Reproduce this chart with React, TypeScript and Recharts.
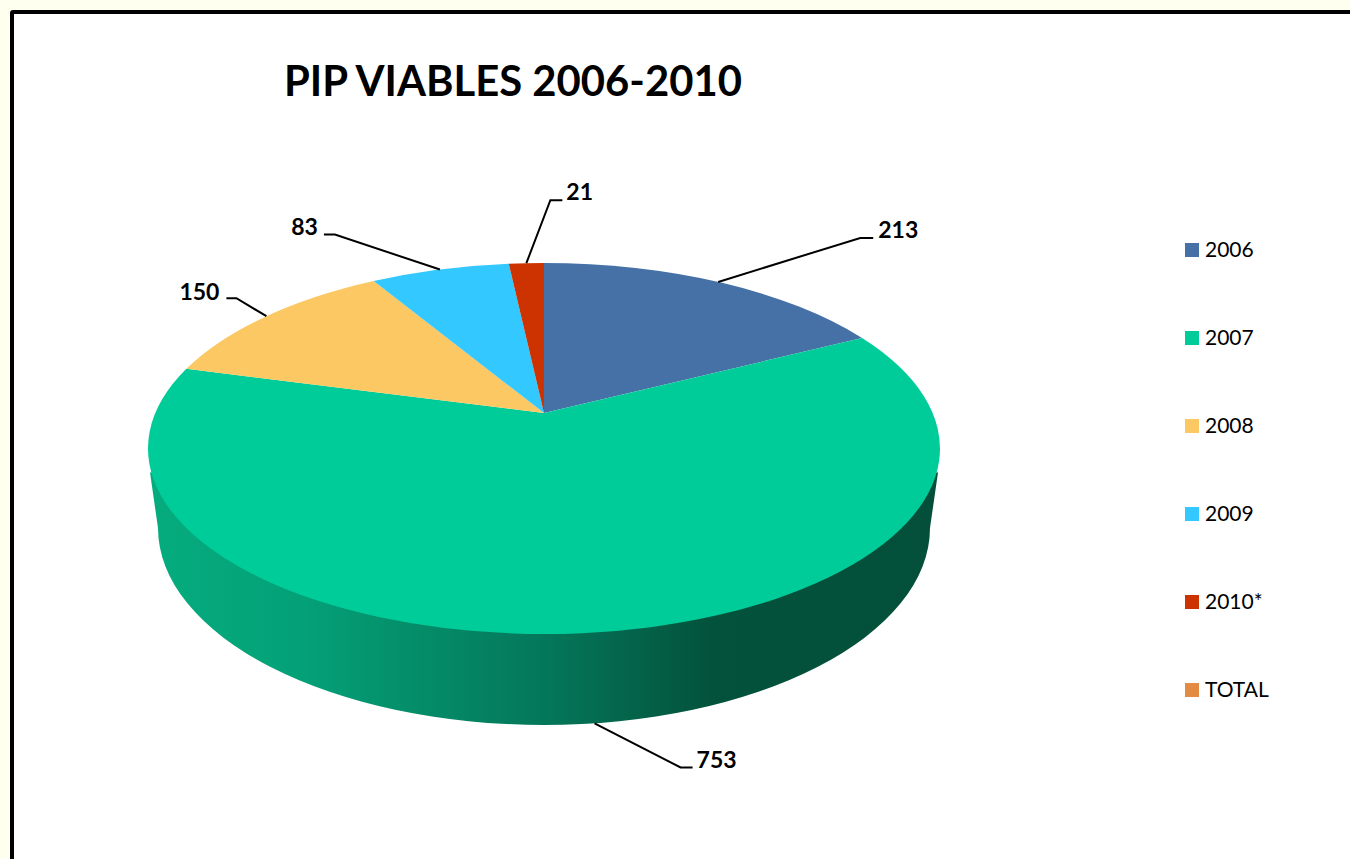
import React from 'react';
import { PieChart, Pie, Legend } from 'recharts';

const categories = ['2006', '2007', '2008', '2009', '2010*', 'TOTAL'];
const values = [213, 753, 150, 83, 21, 0];
const colors = ['#4671A6', '#00CC99', '#FBC864', '#33C8FF', '#CC3300', '#E38B42'];

const chartTitle = 'PIP VIABLES 2006-2010';

const data = categories.map((name, i) => ({ name, value: values[i], fill: colors[i] }));

// Perspective of the disc. The apex sits above the middle of the ellipse,
// so a point on the circle goes through a small projective map.
const CX = 544;
const CY = 413;
const RADIUS = 388.7;
const SQUASH = 0.4597;
const PERSPECTIVE = 0.1914;
const TOP_RX = 396;
const TOP_RY = 185.5;
const TOP_CY = 448.5;
const DEPTH = 91;
const BOTTOM_RX = 386;
const BOTTOM_RY = 197;
const BOTTOM_CY = 528;

const project = (cx: number, cy: number, radius: number, angle: number) => {
  const rad = (angle * Math.PI) / 180;
  const u = Math.cos(rad);
  const v = Math.sin(rad);
  const w = 1 + PERSPECTIVE * v;
  return { x: cx + (radius * u) / w, y: cy - (radius * SQUASH * v) / w };
};

// Custom sector: flat slice on the ellipse, with the side wall under the slice that holds the front
const Slice3D = (props: any) => {
  const { cx, cy, outerRadius, startAngle, endAngle, fill } = props;
  const span = Math.abs(endAngle - startAngle);
  if (span === 0) return null;
  const a = project(cx, cy, outerRadius, startAngle);
  const b = project(cx, cy, outerRadius, endAngle);
  const large = span > 180 ? 1 : 0;
  const holdsFront = startAngle >= -90 && endAngle <= -90;
  return (
    <g>
      {holdsFront && (
        <>
          <defs>
            <linearGradient id="wallGradient" gradientUnits="userSpaceOnUse" x1={cx - TOP_RX} x2={cx + TOP_RX} y1="0" y2="0">
              <stop offset="0" stopColor="#05AC7E" />
              <stop offset="0.2" stopColor="#04A077" />
              <stop offset="0.36" stopColor="#048A67" />
              <stop offset="0.5" stopColor="#04775A" />
              <stop offset="0.6" stopColor="#04664C" />
              <stop offset="0.71" stopColor="#03523C" />
              <stop offset="1" stopColor="#034F3A" />
            </linearGradient>
          </defs>
          <path
            d={`M ${cx - TOP_RX + 2} ${TOP_CY + 24} L ${cx - BOTTOM_RX} ${BOTTOM_CY}
                A ${BOTTOM_RX} ${BOTTOM_RY} 0 0 0 ${cx + BOTTOM_RX} ${BOTTOM_CY}
                L ${cx + TOP_RX - 2} ${TOP_CY + 24} Z`}
            fill="url(#wallGradient)"
          />
        </>
      )}
      <path
        d={`M ${cx} ${cy} L ${a.x} ${a.y} A ${TOP_RX} ${TOP_RY} 0 ${large} 1 ${b.x} ${b.y} Z`}
        fill={fill}
      />
    </g>
  );
};

// Elbow and text position for each label, relative to where the leader leaves the pie
const leaders = [
  { elbow: [142, -44], end: [155, -44], text: [160, -53] },
  { elbow: [86, 44], end: [98, 44], text: [102, 36] },
  { elbow: [-30, -18], end: [-40, -18], text: [-47, -25] },
  { elbow: [-105, -35], end: [-116, -35], text: [-122, -44] },
  { elbow: [24, -63], end: [36, -63], text: [40, -72] },
];

const renderLabel = (props: any) => {
  const { cx, cy, outerRadius, midAngle, index, value } = props;
  if (!value) return null;
  const leader = leaders[index];
  const p = project(cx, cy, outerRadius, midAngle);
  // front of the pie: the leader starts at the foot of the wall
  const y = Math.sin((midAngle * Math.PI) / 180) < 0 ? p.y + DEPTH : p.y;
  const x0 = p.x;
  const pts = [
    [x0, y],
    [x0 + leader.elbow[0], y + leader.elbow[1]],
    [x0 + leader.end[0], y + leader.end[1]],
  ];
  const left = leader.end[0] < leader.elbow[0];
  return (
    <g>
      <polyline points={pts.map((q) => q.join(',')).join(' ')} fill="none" stroke="#000" strokeWidth={2} />
      <text
        x={x0 + leader.text[0]}
        y={y + leader.text[1]}
        textAnchor={left ? 'end' : 'start'}
        dominantBaseline="central"
        fontFamily="Lato"
        fontWeight={700}
        fontSize={23}
        fill="#000"
      >
        {value}
      </text>
    </g>
  );
};

const LegendList = ({ payload }: any) => (
  <div>
    {(payload || []).map((item: any) => (
      <div key={item.value} style={{ height: 88, display: 'flex', alignItems: 'flex-start' }}>
        <span style={{ width: 14, height: 14, marginTop: 7, background: item.color, display: 'block' }} />
        <span style={{ marginLeft: 6, marginTop: -1, fontFamily: 'Lato', fontSize: 21, lineHeight: '28px', color: '#000' }}>
          {item.value}
        </span>
      </div>
    ))}
  </div>
);

export default function App() {
  return (
    <div style={{ position: 'absolute', left: 0, top: 0, width: 1350, height: 859, background: '#FFFFF0', overflow: 'hidden' }}>
      <div
        style={{
          position: 'absolute',
          left: 10,
          top: 10,
          width: 1400,
          height: 900,
          background: '#fff',
          border: '4.5px solid #000',
          borderRadius: 3,
        }}
      />
      <div
        style={{
          position: 'absolute',
          left: 284,
          top: 54,
          fontFamily: 'Lato',
          fontWeight: 700,
          fontSize: 41.8,
          lineHeight: '52px',
          whiteSpace: 'nowrap',
          color: '#000',
        }}
      >
        {chartTitle}
      </div>
      <div style={{ position: 'absolute', left: 0, top: 0 }}>
        <PieChart width={1350} height={859} margin={{ top: 0, right: 0, bottom: 0, left: 0 }}>
          <Pie
            data={data}
            dataKey="value"
            nameKey="name"
            cx={CX}
            cy={CY}
            outerRadius={RADIUS}
            startAngle={90}
            endAngle={-270}
            stroke="none"
            shape={Slice3D}
            label={renderLabel}
            labelLine={false}
            isAnimationActive={false}
          />
          {/* vertical + center + middle keeps the legend from shrinking the plot area */}
          <Legend
            layout="vertical"
            align="center"
            verticalAlign="middle"
            content={LegendList}
            wrapperStyle={{ left: 1185, top: 236, width: 120 }}
          />
        </PieChart>
      </div>
    </div>
  );
}
